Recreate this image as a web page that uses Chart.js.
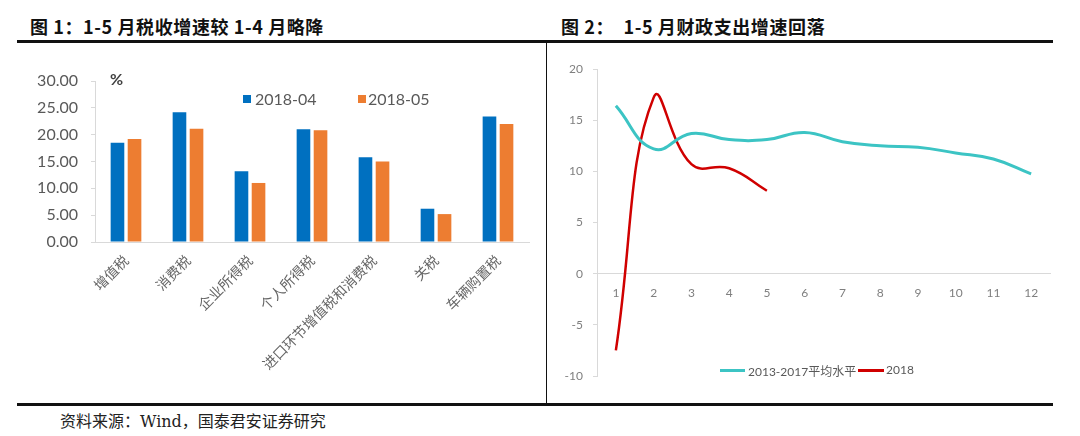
<!DOCTYPE html>
<html>
<head>
<meta charset="utf-8">
<script src="https://cdn.jsdelivr.net/npm/chart.js@4/dist/chart.umd.min.js"></script>
<style>
  body { margin: 0; background: #fff; }
  #page { position: relative; width: 1080px; height: 436px; overflow: hidden; background: #fff; }
  .title { position: absolute; top: 13px; font: bold 18px "Noto Sans CJK SC", sans-serif; letter-spacing: 0.6px; color: #111; white-space: pre; }
  .rule { position: absolute; background: #111; }
  .box { position: absolute; }
  .leg { position: absolute; font: 16px Lato, sans-serif; color: #595959; white-space: nowrap; }
  .leg2 { position: absolute; font: 12px Lato, "Noto Sans CJK SC", sans-serif; color: #595959; white-space: nowrap; }
  #src { position: absolute; left: 60px; top: 408px; font: 16px "DejaVu Serif", "Noto Sans CJK SC", serif; color: #222; white-space: pre; }
</style>
</head>
<body>
<div id="page">
  <div class="title" style="left:30px">图 1：1-5 月税收增速较 1-4 月略降</div>
  <div class="title" style="left:561px">图 2：  1-5 月财政支出增速回落</div>
  <div class="rule" style="left:17px; top:40px; width:1036px; height:3px"></div>
  <div class="rule" style="left:546px; top:43px; width:1px; height:361px"></div>
  <div class="rule" style="left:17px; top:403px; width:1036px; height:3px"></div>
  <div id="src">资料来源：Wind，国泰君安证券研究</div>

  <div class="box" style="left:17px; top:45px; width:523px; height:355px"><canvas id="taxChart"></canvas></div>
  <div class="leg" style="left:110px; top:69px; font-weight:bold; font-size:16px; color:#404040">%</div>
  <div id="taxLegend"></div>

  <div class="box" style="left:548px; top:45px; width:512px; height:355px"><canvas id="spendChart"></canvas></div>
  <div id="spendLegend"></div>
</div>

<script>
// left chart: tax revenue growth, Jan-Apr vs Jan-May 2018
const taxCategories = ['增值税', '消费税', '企业所得税', '个人所得税', '进口环节增值税和消费税', '关税', '车辆购置税'];
const taxApr = [18.5, 24.2, 13.2, 21.0, 15.8, 6.2, 23.4];
const taxMay = [19.2, 21.1, 11.0, 20.8, 15.0, 5.2, 22.0];
const taxSeries = ['2018-04', '2018-05'];

// right chart: fiscal spending growth by month
const months = ['1', '2', '3', '4', '5', '6', '7', '8', '9', '10', '11', '12'];
const avg2013to2017 = [16.4, 12.2, 13.7, 13.1, 13.1, 13.8, 12.9, 12.5, 12.35, 11.8, 11.2, 9.75];
const spend2018 = [-7.5, 17.2, 10.7, 10.3, 8.1];
const spendSeries = ['2013-2017平均水平', '2018'];

const blue = '#0070C0';
const orange = '#ED7D31';
const teal = '#3CC4C4';
const red = '#D00000';
const axisGrey = '#D9D9D9';

Chart.defaults.animation = false;
Chart.defaults.maintainAspectRatio = false;
Chart.defaults.plugins.legend.display = false;
Chart.defaults.plugins.tooltip.enabled = false;

new Chart(document.getElementById('taxChart'), {
    type: 'bar',
    data: {
        labels: taxCategories,
        datasets: [
            { label: taxSeries[0], data: taxApr, backgroundColor: blue },
            { label: taxSeries[1], data: taxMay, backgroundColor: orange },
        ],
    },
    options: {
        layout: { padding: { top: 36, right: 11, bottom: 0, left: 0 } },
        datasets: { bar: { barPercentage: 0.8, categoryPercentage: 0.55 } },
        scales: {
            x: {
                grid: { display: false, drawTicks: false },
                border: { color: axisGrey },
                ticks: {
                    minRotation: 45, maxRotation: 45, padding: 10,
                    color: '#666', font: { family: '"Noto Sans CJK SC"', size: 14 },
                },
                afterFit: (s) => { s.height = 158; },
            },
            y: {
                min: 0, max: 30,
                grid: { drawOnChartArea: false, tickLength: 4, color: axisGrey },
                border: { color: axisGrey },
                ticks: {
                    stepSize: 5, padding: 13, color: '#595959',
                    font: { family: 'Lato', size: 16 },
                    callback: (v) => v.toFixed(2),
                },
                afterFit: (s) => { s.width = 78; },
            },
        },
    },
});

new Chart(document.getElementById('spendChart'), {
    type: 'line',
    data: {
        labels: months,
        datasets: [
            { label: spendSeries[0], data: avg2013to2017, borderColor: teal, borderWidth: 3 },
            { label: spendSeries[1], data: spend2018, borderColor: red, borderWidth: 2.5 },
        ],
    },
    options: {
        layout: { padding: { top: 24, right: 10, bottom: 24, left: 0 } },
        elements: { point: { radius: 0 }, line: { tension: 0.45 } },
        scales: {
            x: {
                position: { y: 0 },
                offset: true,
                grid: { display: false, drawTicks: false },
                border: { color: axisGrey },
                ticks: { padding: 12, color: '#7F7F7F', font: { family: 'Lato', size: 12 } },
            },
            y: {
                min: -10, max: 20,
                grid: { drawOnChartArea: false, tickLength: 4, color: axisGrey },
                border: { color: axisGrey },
                ticks: { stepSize: 5, padding: 10, color: '#7F7F7F', font: { family: 'Lato', size: 12 } },
                afterFit: (s) => { s.width = 49; },
            },
        },
    },
});

// html legends, built from the series names
function addLegend(parent, items) {
    const host = document.getElementById(parent);
    items.forEach((it) => {
        const mark = document.createElement('div');
        mark.style.cssText = `position:absolute;left:${it.mx}px;top:${it.my}px;width:${it.mw}px;height:${it.mh}px;background:${it.color}`;
        host.appendChild(mark);
        const txt = document.createElement('div');
        txt.className = it.cls;
        txt.style.left = it.tx + 'px';
        txt.style.top = it.ty + 'px';
        txt.textContent = it.text;
        host.appendChild(txt);
    });
}

addLegend('taxLegend', [
    { text: taxSeries[0], color: blue, mx: 243, my: 95, mw: 8, mh: 8, tx: 255, ty: 89, cls: 'leg' },
    { text: taxSeries[1], color: orange, mx: 358, my: 95, mw: 8, mh: 8, tx: 368, ty: 89, cls: 'leg' },
]);
addLegend('spendLegend', [
    { text: spendSeries[0], color: teal, mx: 720, my: 369, mw: 25, mh: 3, tx: 748, ty: 362, cls: 'leg2' },
    { text: spendSeries[1], color: red, mx: 858, my: 369, mw: 26, mh: 3, tx: 886, ty: 362, cls: 'leg2' },
]);
</script>
</body>
</html>
